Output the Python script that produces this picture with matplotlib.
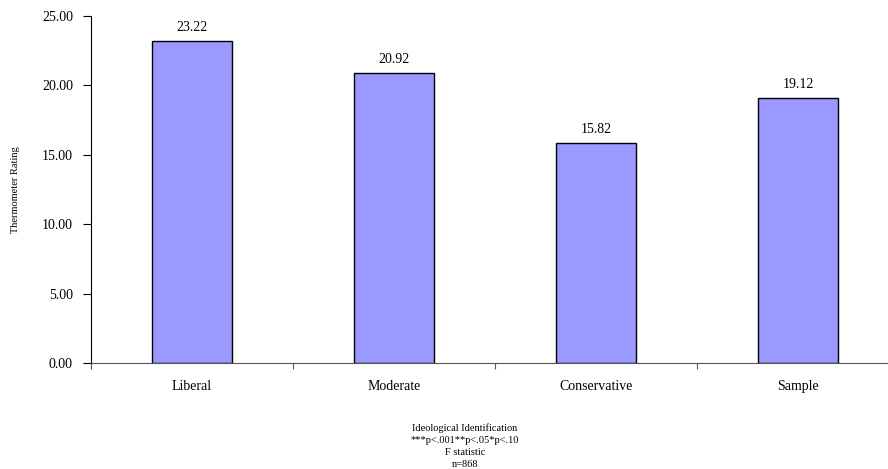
import numpy as np
import matplotlib
matplotlib.use("Agg")
import matplotlib.pyplot as plt

groups = ["Liberal", "Moderate", "Conservative", "Sample"]
ratings = [23.22, 20.92, 15.82, 19.12]
yticks = [0, 5, 10, 15, 20, 25]
notes = ["Ideological Identification", "***p<.001**p<.05*p<.10", "F statistic", "n=868"]

plt.rcParams["font.family"] = ["Liberation Serif", "DejaVu Serif"]

fig = plt.figure(figsize=(8.88, 4.69), dpi=100)
# axes runs slightly past the right edge of the figure
ax = fig.add_axes([91 / 888, 106 / 469, 808 / 888, 347 / 469])

x = np.arange(len(groups))
bars = ax.bar(x, ratings, width=0.4, color="#9999FF", edgecolor="black", linewidth=1)

for xi, v in zip(x, ratings):
    ax.annotate(f"{v:.2f}", (xi, v), xytext=(0, 5), textcoords="offset points",
                ha="center", va="bottom", fontsize=10)

ax.set_xlim(-0.5, len(groups) - 0.5)
ax.set_ylim(0, 25)
ax.set_yticks(yticks)
ax.set_yticklabels([f"{t:.2f}" for t in yticks], fontsize=10)

ax.set_xticks(np.arange(len(groups) + 1) - 0.5)
ax.set_xticklabels([])
ax.set_xticks(x, minor=True)
ax.set_xticklabels(groups, minor=True, fontsize=10)
ax.tick_params(axis="x", which="major", length=4, direction="out", color="#555555")
ax.tick_params(axis="x", which="minor", length=0, pad=12)
ax.tick_params(axis="y", length=6, direction="out", pad=7)

ax.spines["top"].set_visible(False)
ax.spines["right"].set_visible(False)
ax.spines["bottom"].set_color("#555555")

fig.text(15 / 888, 1 - 190 / 469, "Thermometer Rating", rotation=90,
         ha="center", va="center", fontsize=7.5)

for i, line in enumerate(notes):
    fig.text(465 / 888, 1 - (428 + 12 * i) / 469, line, ha="center", va="center", fontsize=7.5)

fig.savefig("out.png", dpi=100)
